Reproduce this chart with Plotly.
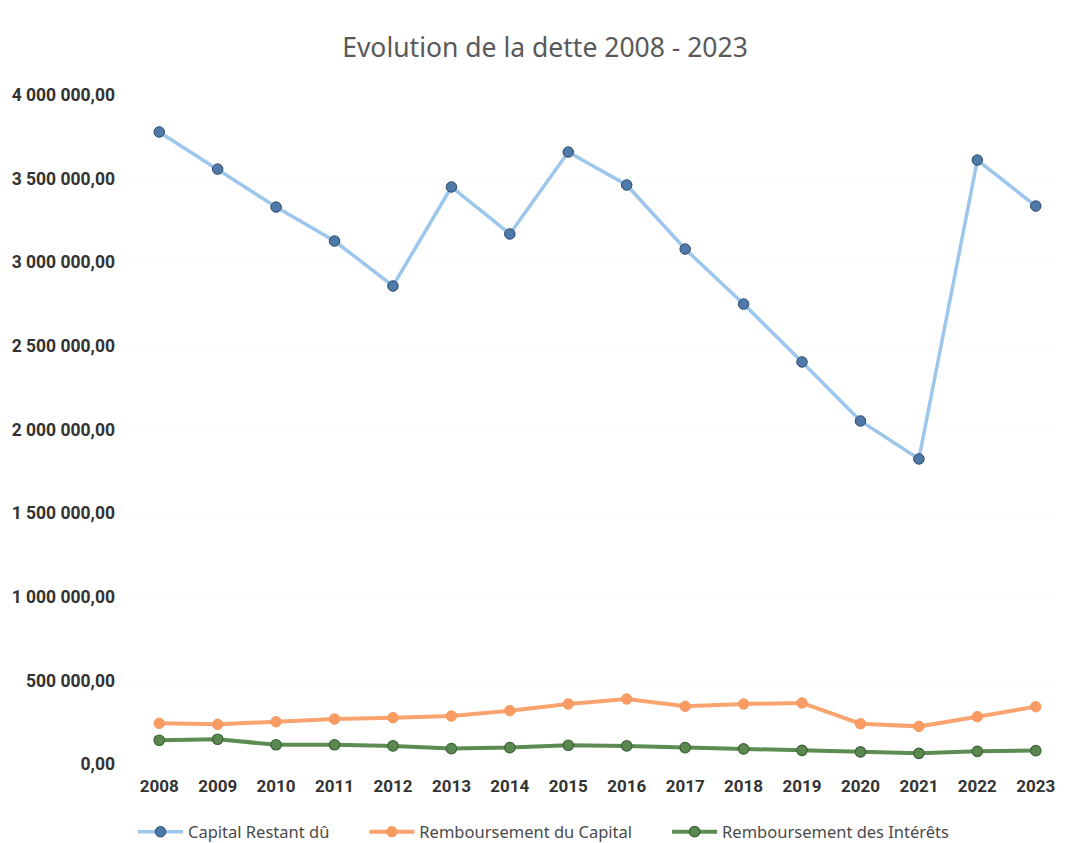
import plotly.graph_objects as go

years = ["2008", "2009", "2010", "2011", "2012", "2013", "2014", "2015",
         "2016", "2017", "2018", "2019", "2020", "2021", "2022", "2023"]

capital_restant_du = [3779000, 3557000, 3330000, 3127000, 2858000, 3450000, 3169000, 3659000,
                      3462000, 3079000, 2750000, 2404000, 2051000, 1824000, 3611000, 3336000]

remboursement_capital = [243000, 237000, 253000, 269000, 277000, 287000, 319000, 359000,
                         389000, 345000, 359000, 365000, 241000, 225000, 283000, 343000]

remboursement_interets = [142000, 148000, 115000, 115000, 108000, 92000, 98000, 112000,
                          108000, 98000, 90000, 82000, 72000, 64000, 76000, 80000]

series_names = ["Capital Restant dû", "Remboursement du Capital", "Remboursement des Intérêts"]

y_ticks = [0, 500000, 1000000, 1500000, 2000000, 2500000, 3000000, 3500000, 4000000]

# the page body has an 8px margin, so the figure is drawn 8px smaller and offset
W, H = 1057, 835
PAD = "\u00a0" * 7

fig = go.Figure()

fig.add_trace(go.Scatter(
    x=years, y=capital_restant_du, mode="lines+markers", name=series_names[0] + PAD,
    line=dict(color="#9DC6EC", width=3.5),
    marker=dict(size=10.5, color="#4E79A9", line=dict(color="#2E4A6A", width=1)),
))
fig.add_trace(go.Scatter(
    x=years, y=remboursement_capital, mode="lines+markers", name=series_names[1] + PAD,
    line=dict(color="#F9A46F", width=4),
    marker=dict(size=10.5, color="#F79B63", line=dict(color="#F79B63", width=1)),
))
fig.add_trace(go.Scatter(
    x=years, y=remboursement_interets, mode="lines+markers", name=series_names[2],
    line=dict(color="#5C8C52", width=4),
    marker=dict(size=10.5, color="#5A8850", line=dict(color="#3C6236", width=1.2)),
))

fig.update_layout(
    width=W, height=H,
    paper_bgcolor="white", plot_bgcolor="white",
    separators=", ",
    margin=dict(l=122, r=0, t=87, b=79, autoexpand=False),
    title=dict(text="Evolution de la dette 2008 - 2023", x=(545 - 8) / W, xanchor="center",
               y=1 - (48 - 8) / H, yanchor="middle", yref="container",
               font=dict(family="Noto Sans", size=26.5, color="#595959")),
    showlegend=True,
    legend=dict(orientation="h", x=(544 - 8) / W, xanchor="center", xref="container",
                y=1 - (832 - 8) / H, yanchor="middle", yref="container",
                font=dict(family="Noto Sans", size=16.5, color="#4A4A4A"),
                itemwidth=45, tracegroupgap=0),
    font=dict(family="Roboto", color="#333333"),
)

fig.update_xaxes(
    type="category", range=[-0.5, 15.5], showgrid=False, zeroline=False,
    showline=False, ticks="", automargin=False,
    tickfont=dict(family="Roboto", size=17, color="#333333", weight="bold"),
    ticklabelstandoff=10,
)
fig.update_yaxes(
    range=[0, 4000000], tickvals=y_ticks, tickformat=",.2f", automargin=False,
    showgrid=True, gridcolor="#FAFAFA", zeroline=False, showline=False, ticks="",
    tickfont=dict(family="Roboto", size=17.5, color="#333333", weight="bold"),
    ticklabelstandoff=14,
)

fig.write_html("out.html")
